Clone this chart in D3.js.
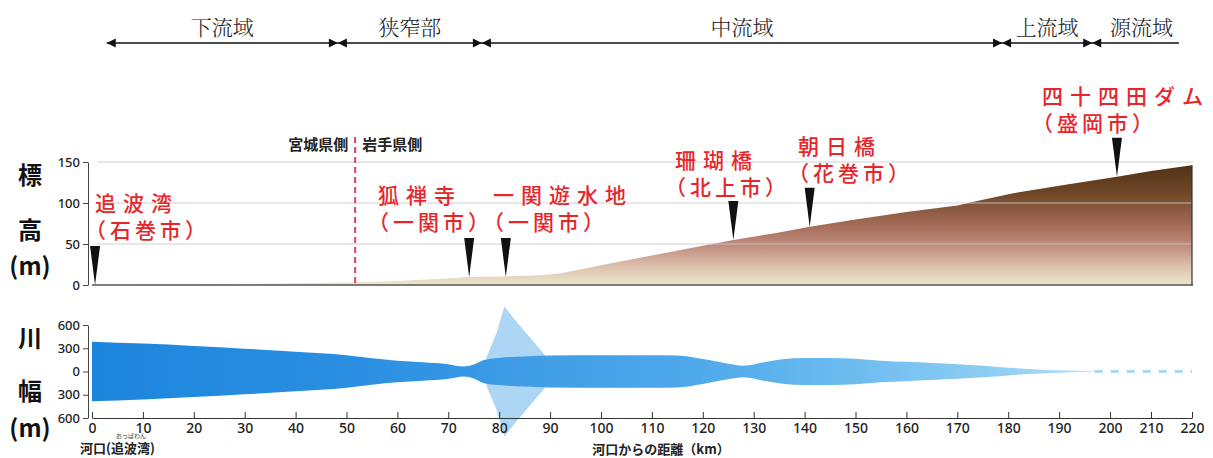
<!DOCTYPE html>
<html>
<head>
<meta charset="utf-8">
<script src="https://cdn.jsdelivr.net/npm/d3@7"></script>
<style>
  body { margin: 0; background: #fff; }
  svg { display: block; }
  .tick text { font-family: 'Noto Sans', 'Liberation Sans', sans-serif; font-weight: 500; fill: #222; }
</style>
</head>
<body>
<div id="vis"></div>
<script>
// data

// river sections along the top (km)
const sectionNames = ['下流域', '狭窄部', '中流域', '上流域', '源流域'];
const sectionBounds = [2.9, 48.3, 76.6, 178.8, 196.5, 216.8];

// elevation profile (km, m)
const elevKm = [0, 10, 20, 30, 40, 50, 60, 70, 74, 81, 88, 92, 100, 110, 120, 126, 135, 141, 150, 160, 170, 175, 181, 190, 201.7, 210, 220];
const elevM = [0, 0.5, 1, 1.5, 2, 3, 5, 8, 9.8, 10.5, 12, 14, 24, 36, 48, 55, 64, 71, 80, 89, 97, 104, 112, 121, 132, 139, 146];

// landmarks with their position and elevation
const placeNames = ['追波湾', '狐禅寺', '一関遊水地', '珊瑚橋', '朝日橋', '四十四田ダム'];
const placeCities = ['（石巻市）', '（一関市）', '（一関市）', '（北上市）', '（花巻市）', '（盛岡市）'];
const placeKm = [0.6, 74.1, 81.3, 126, 141, 201.7];
const placeElev = [0, 9.8, 9.8, 55, 71, 132];

// river width, half width each side (km, m)
const widthKm = [0, 10, 20, 30, 40, 50, 55, 60, 65, 70, 73, 75, 77, 80, 85, 90, 100, 110, 115, 120, 125, 128, 132, 136, 140, 145, 150, 155, 160, 165, 170, 175, 180, 185, 190, 195, 197];
const widthHalf = [385, 360, 330, 295, 255, 210, 170, 140, 120, 95, 65, 90, 150, 175, 195, 205, 210, 210, 205, 160, 100, 75, 120, 160, 175, 175, 165, 140, 125, 110, 95, 75, 50, 30, 15, 6, 2];

// 一関遊水地 flood basin
const basinKm = [77.5, 79.5, 81, 83, 85, 87, 89];
const basinHalf = [185, 500, 840, 675, 520, 365, 210];

const xTicks = d3.range(0, 221, 10);
const elevTicks = [0, 50, 100, 150];
const widthTicks = [-600, -300, 0, 300, 600];

const W = 1213, H = 458;
const cjk = "'Noto Sans CJK JP', 'Noto Sans', sans-serif";

const svg = d3.select('#vis').append('svg').attr('width', W).attr('height', H);
const defs = svg.append('defs');

// last 20 km are drawn compressed in the original
const x = d3.scaleLinear().domain([0, 200, 220]).range([92, 1110, 1192]);
const yE = d3.scaleLinear().domain([0, 150]).range([285, 162]);
const yW = d3.scaleLinear().domain([-600, 600]).range([418, 325]);

// ---- section arrows
const secY = 43;
sectionNames.forEach((name, i) => {
  const x0 = x(sectionBounds[i]), x1 = x(sectionBounds[i + 1]);
  svg.append('line')
    .attr('x1', x0).attr('x2', x1).attr('y1', secY).attr('y2', secY)
    .attr('stroke', '#111').attr('stroke-width', 1.5);
  svg.append('path')
    .attr('d', `M${x0},${secY}L${x0 + 9},${secY - 4.5}L${x0 + 9},${secY + 4.5}Z`)
    .attr('fill', '#111');
  if (i < sectionNames.length - 1) {
    svg.append('path')
      .attr('d', `M${x1},${secY}L${x1 - 9},${secY - 4.5}L${x1 - 9},${secY + 4.5}Z`)
      .attr('fill', '#111');
  }
  svg.append('text')
    .attr('x', (x0 + x1) / 2 + (i === 4 ? 6 : 0))
    .attr('y', 35)
    .attr('text-anchor', 'middle')
    .style('font-family', "'Noto Serif CJK JP', " + cjk)
    .style('font-weight', 300)
    .style('font-size', '21px')
    .style('fill', '#222')
    .text(name);
});

// ---- elevation panel
const eGrad = defs.append('linearGradient')
  .attr('id', 'elevGrad')
  .attr('gradientUnits', 'userSpaceOnUse')
  .attr('x1', 0).attr('x2', 0).attr('y1', yE(150)).attr('y2', yE(0));
[[0, '#4e3014'], [0.25, '#6e4626'], [0.5, '#a26a56'], [0.68, '#c08c7e'], [0.85, '#dcc0ae'], [1, '#ece8cc']]
  .forEach(s => eGrad.append('stop').attr('offset', s[0]).attr('stop-color', s[1]));

const elevData = elevKm.map((k, i) => ({ km: k, m: elevM[i] }));
const elevArea = d3.area().x(d => x(d.km)).y0(yE(0)).y1(d => yE(d.m));
svg.append('path').datum(elevData).attr('d', elevArea).attr('fill', 'url(#elevGrad)');

// gridlines over the fill
svg.append('g')
  .selectAll('line')
  .data(elevTicks.slice(1))
  .join('line')
  .attr('x1', 97).attr('x2', x(220) + 1)
  .attr('y1', d => yE(d)).attr('y2', d => yE(d))
  .attr('stroke', '#c8c8c8').attr('stroke-opacity', 0.85).attr('stroke-width', 1);

svg.append('line')
  .attr('x1', x(0)).attr('x2', x(220) + 1).attr('y1', yE(0)).attr('y2', yE(0))
  .attr('stroke', '#555').attr('stroke-width', 1.5);
svg.append('line')
  .attr('x1', x(220)).attr('x2', x(220)).attr('y1', yE(elevM[elevM.length - 1])).attr('y2', yE(0))
  .attr('stroke', '#333').attr('stroke-width', 1.2);

const eAxis = svg.append('g')
  .attr('transform', 'translate(88,0)')
  .call(d3.axisLeft(yE).tickValues(elevTicks).tickSize(5).tickSizeOuter(0).tickPadding(3));
eAxis.selectAll('text').style('font-size', '13px');
eAxis.selectAll('path, line').attr('stroke', '#444');

// prefecture border
svg.append('line')
  .attr('x1', x(51.7)).attr('x2', x(51.7)).attr('y1', 137).attr('y2', yE(0))
  .attr('stroke', '#d9406e').attr('stroke-width', 2).attr('stroke-dasharray', '6,4');
svg.append('text')
  .attr('x', x(51.7) - 7).attr('y', 150).attr('text-anchor', 'end')
  .style('font-family', cjk).style('font-weight', 700).style('font-size', '15px').style('fill', '#222')
  .text('宮城県側');
svg.append('text')
  .attr('x', x(51.7) + 7).attr('y', 150)
  .style('font-family', cjk).style('font-weight', 700).style('font-size', '15px').style('fill', '#222')
  .text('岩手県側');

// landmark markers
placeKm.forEach((k, i) => {
  const tx = x(k), ty = yE(placeElev[i]);
  svg.append('path')
    .attr('d', `M${tx},${ty}L${tx - 5},${ty - 39}L${tx + 5},${ty - 39}Z`)
    .attr('fill', '#111');
});

// label anchor points (left x, first-line baseline)
const labelPos = [[95, 211], [378, 203], [493, 203], [675, 168], [798, 154], [1042, 104]];
placeNames.forEach((name, i) => {
  const [lx, ly] = labelPos[i];
  svg.append('text')
    .attr('x', lx).attr('y', ly)
    .style('font-family', cjk).style('font-weight', 500).style('font-size', '21px')
    .style('letter-spacing', '7px').style('fill', '#e6262b')
    .text(name);
  svg.append('text')
    .attr('x', lx - 10).attr('y', ly + 27)
    .style('font-family', cjk).style('font-weight', 500).style('font-size', '21px')
    .style('letter-spacing', '4px').style('fill', '#e6262b')
    .text(placeCities[i]);
});

// ---- river width panel
const wGrad = defs.append('linearGradient')
  .attr('id', 'widthGrad')
  .attr('gradientUnits', 'userSpaceOnUse')
  .attr('x1', x(0)).attr('x2', x(197)).attr('y1', 0).attr('y2', 0);
[[0, '#1c86dd'], [0.25, '#2a8ee1'], [0.37, '#3496e4'], [0.42, '#3e9de6'], [0.6, '#4ea8ea'], [0.75, '#6bbbef'], [0.9, '#8ecdf3'], [1, '#b8e2f8']]
  .forEach(s => wGrad.append('stop').attr('offset', s[0]).attr('stop-color', s[1]));

const basinData = basinKm.map((k, i) => ({ km: k, w: basinHalf[i] }));
const widthData = widthKm.map((k, i) => ({ km: k, w: widthHalf[i] }));
const bandArea = d3.area().x(d => x(d.km)).y0(d => yW(-d.w)).y1(d => yW(d.w));

svg.append('path').datum(basinData).attr('d', bandArea).attr('fill', '#acd6f4');
svg.append('path').datum(widthData).attr('d', bandArea.curve(d3.curveMonotoneX)).attr('fill', 'url(#widthGrad)');

svg.append('line')
  .attr('x1', x(197)).attr('x2', x(220)).attr('y1', yW(0)).attr('y2', yW(0))
  .attr('stroke', '#a8d8f3').attr('stroke-width', 3).attr('stroke-dasharray', '8,8');

const wAxis = svg.append('g')
  .attr('transform', 'translate(88,0)')
  .call(d3.axisLeft(yW).tickValues(widthTicks).tickFormat(d => Math.abs(d)).tickSize(5).tickSizeOuter(0).tickPadding(3));
wAxis.selectAll('text').style('font-size', '13px');
wAxis.selectAll('path, line').attr('stroke', '#444');

const xAxis = svg.append('g')
  .attr('transform', `translate(0,${yW(-600)})`)
  .call(d3.axisBottom(x).tickValues(xTicks).tickSizeInner(-6).tickSizeOuter(0).tickPadding(5));
xAxis.selectAll('text').style('font-size', '14px');
xAxis.selectAll('path, line').attr('stroke', '#333');

svg.append('text')
  .attr('x', 80).attr('y', 453)
  .style('font-family', cjk).style('font-weight', 700).style('font-size', '13px').style('fill', '#222')
  .text('河口(追波湾)');
svg.append('text')
  .attr('x', 116).attr('y', 438)
  .style('font-family', cjk).style('font-size', '6px').style('fill', '#333')
  .text('おっぱわん');
svg.append('text')
  .attr('x', 661).attr('y', 454).attr('text-anchor', 'middle')
  .style('font-family', cjk).style('font-weight', 700).style('font-size', '13px').style('fill', '#222')
  .text('河口からの距離（km）');

// side titles
const sideTitles = [['標', 175], ['高', 230], ['(m)', 266], ['川', 338], ['幅', 391], ['(m)', 428]];
sideTitles.forEach(s => {
  svg.append('text')
    .attr('x', 30).attr('y', s[1]).attr('dy', '0.36em').attr('text-anchor', 'middle')
    .style('font-family', cjk).style('font-weight', 700).style('font-size', '24px').style('fill', '#111')
    .text(s[0]);
});
</script>
</body>
</html>
